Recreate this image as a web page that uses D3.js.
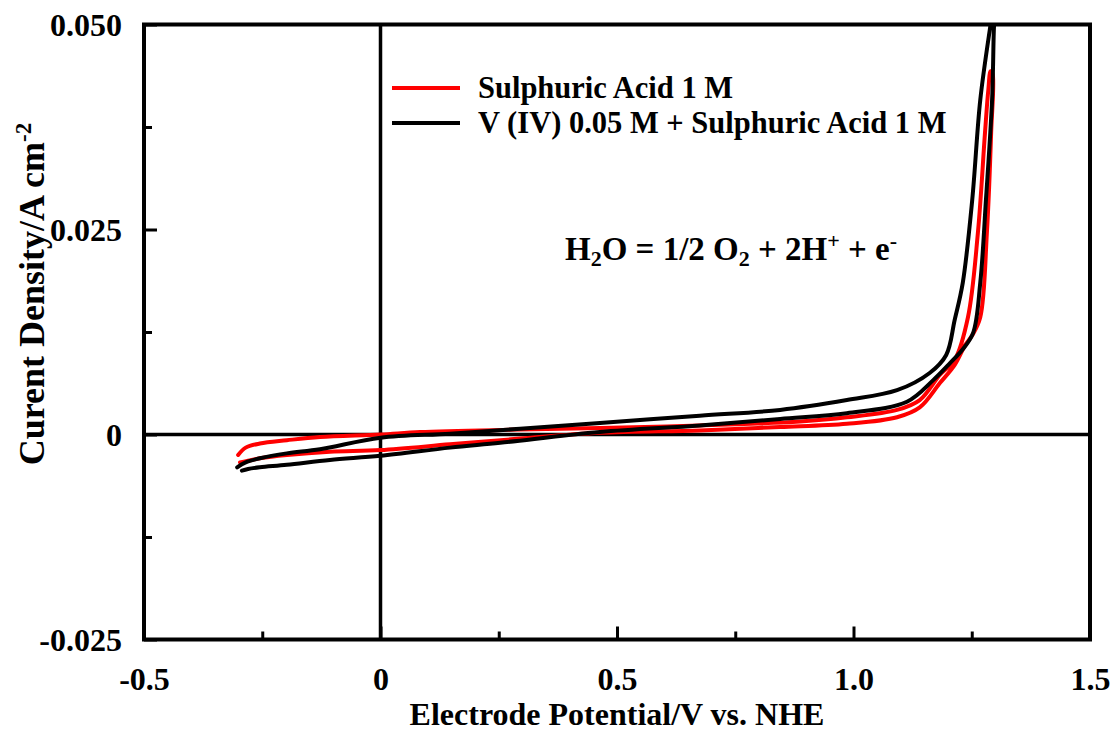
<!DOCTYPE html>
<html>
<head>
<meta charset="utf-8">
<script src="https://cdn.jsdelivr.net/npm/d3@7"></script>
<style>
  body { margin: 0; background: #fff; }
  text { font-family: "Liberation Serif", "Times New Roman", serif; font-weight: bold; fill: #000; }
</style>
</head>
<body>
<svg id="chart" width="1113" height="733"></svg>
<script>
// Axis ticks
const xTicks = [-0.5, 0, 0.5, 1.0, 1.5];
const xTickLabels = ["-0.5", "0", "0.5", "1.0", "1.5"];
const xMinorTicks = [-0.25, 0.25, 0.75, 1.25];
const yTicks = [-0.025, 0, 0.025, 0.05];
const yTickLabels = ["-0.025", "0", "0.025", "0.050"];
const yMinorTicks = [-0.0125, 0.0125, 0.0375];

// Series names
const seriesNames = ["Sulphuric Acid 1 M", "V (IV) 0.05 M + Sulphuric Acid 1 M"];

// Sulphuric acid 1 M: anodic sweep then return sweep (V vs. NHE, A cm^-2)
const acidPotential = [
  -0.297, -0.280, -0.255, -0.198, -0.107, 0.000, 0.147, 0.295, 0.464, 0.675, 0.845, 0.986,
  1.092, 1.140, 1.183, 1.214, 1.236, 1.251, 1.268, 1.282, 1.291, 1.294,
  1.290, 1.285, 1.278, 1.263, 1.242, 1.214, 1.183, 1.140, 1.092, 0.986, 0.887, 0.675,
  0.464, 0.295, 0.084, 0.000, -0.128, -0.198, -0.255, -0.285, -0.301
];
const acidCurrent = [
  -0.0034, -0.0032, -0.0029, -0.0025, -0.0021, -0.0019, -0.0012, -0.0005, 0.0002, 0.0005, 0.0009, 0.0013,
  0.0021, 0.0033, 0.0063, 0.0085, 0.0109, 0.0121, 0.0143, 0.0246, 0.0368, 0.0440,
  0.0443, 0.0420, 0.0368, 0.0246, 0.0143, 0.0091, 0.0073, 0.0042, 0.0030, 0.0021, 0.0016, 0.0011,
  0.0008, 0.0006, 0.0003, 0.0000, -0.0003, -0.0007, -0.0011, -0.0016, -0.0025
];

// V(IV) 0.05 M + sulphuric acid 1 M
const vanadiumPotential = [
  -0.293, -0.280, -0.255, -0.198, -0.107, 0.000, 0.147, 0.253, 0.464, 0.675, 0.845, 0.986,
  1.113, 1.168, 1.204, 1.231, 1.253, 1.268, 1.280, 1.293, 1.297, 1.299,
  1.293, 1.289, 1.268, 1.251, 1.231, 1.214, 1.196, 1.161, 1.092, 0.986, 0.845, 0.675,
  0.464, 0.295, 0.147, 0.000, -0.128, -0.198, -0.255, -0.285, -0.303
];
const vanadiumCurrent = [
  -0.0044, -0.0042, -0.0040, -0.0037, -0.0031, -0.0026, -0.0016, -0.0010, 0.0003, 0.0011, 0.0019, 0.0026,
  0.0040, 0.0066, 0.0087, 0.0104, 0.0124, 0.0185, 0.0286, 0.0408, 0.0497, 0.0512,
  0.0512, 0.0497, 0.0408, 0.0286, 0.0185, 0.0140, 0.0097, 0.0075, 0.0054, 0.0042, 0.0030, 0.0023,
  0.0014, 0.0007, 0.0001, -0.0004, -0.0018, -0.0023, -0.0029, -0.0034, -0.0040
];

const seriesColors = ["#ff0000", "#000000"];

const svg = d3.select("#chart");
const plot = { left: 144, right: 1090, top: 24.5, bottom: 639.5 };

const x = d3.scaleLinear().domain([-0.5, 1.5]).range([plot.left, plot.right]);
const y = d3.scaleLinear().domain([-0.025, 0.05]).range([plot.bottom, plot.top]);

svg.append("defs").append("clipPath").attr("id", "plot-clip")
  .append("rect")
  .attr("x", plot.left).attr("y", plot.top)
  .attr("width", plot.right - plot.left).attr("height", plot.bottom - plot.top);

// Zero lines
svg.append("line")
  .attr("x1", x(-0.5)).attr("x2", x(1.5)).attr("y1", y(0)).attr("y2", y(0))
  .attr("stroke", "#000").attr("stroke-width", 3.5);
svg.append("line")
  .attr("x1", x(0)).attr("x2", x(0)).attr("y1", y(-0.025)).attr("y2", y(0.05))
  .attr("stroke", "#000").attr("stroke-width", 3.5);

// Curves
const series = [
  d3.zip(acidPotential, acidCurrent),
  d3.zip(vanadiumPotential, vanadiumCurrent)
];
const line = d3.line()
  .x(d => x(d[0])).y(d => y(d[1]))
  .curve(d3.curveCatmullRom.alpha(0.5));

svg.append("g").attr("clip-path", "url(#plot-clip)")
  .selectAll("path").data(series).join("path")
  .attr("d", line)
  .attr("fill", "none")
  .attr("stroke", (d, i) => seriesColors[i])
  .attr("stroke-width", 4)
  .attr("stroke-linejoin", "round")
  .attr("stroke-linecap", "round");

// Axes: inward major and minor ticks
function styleAxis(g) {
  g.select(".domain").remove();
  g.selectAll(".tick line").attr("stroke", "#000").attr("stroke-width", 3);
  g.selectAll(".tick text").style("font-size", "32px");
}

svg.append("g")
  .attr("transform", `translate(0,${plot.bottom})`)
  .call(d3.axisBottom(x).tickValues(xTicks).tickSizeInner(-13).tickSizeOuter(0)
    .tickPadding(0).tickFormat((d, i) => xTickLabels[i]))
  .call(styleAxis)
  .call(g => g.selectAll(".tick text").attr("y", 50).attr("dy", null));

svg.append("g")
  .attr("transform", `translate(0,${plot.bottom})`)
  .call(d3.axisBottom(x).tickValues(xMinorTicks).tickSizeInner(-8).tickSizeOuter(0).tickFormat(""))
  .call(styleAxis);

svg.append("g")
  .attr("transform", `translate(${plot.left},0)`)
  .call(d3.axisLeft(y).tickValues(yTicks).tickSizeInner(-13).tickSizeOuter(0)
    .tickPadding(0).tickFormat((d, i) => yTickLabels[i]))
  .call(styleAxis)
  .call(g => g.selectAll(".tick text").attr("x", -22).attr("dy", "0.35em"));

svg.append("g")
  .attr("transform", `translate(${plot.left},0)`)
  .call(d3.axisLeft(y).tickValues(yMinorTicks).tickSizeInner(-8).tickSizeOuter(0).tickFormat(""))
  .call(styleAxis);

// Frame
svg.append("rect")
  .attr("x", plot.left).attr("y", plot.top)
  .attr("width", plot.right - plot.left).attr("height", plot.bottom - plot.top)
  .attr("fill", "none").attr("stroke", "#000").attr("stroke-width", 4);

// Axis titles
svg.append("text")
  .attr("x", (plot.left + plot.right) / 2).attr("y", 725)
  .attr("text-anchor", "middle").style("font-size", "32px")
  .text("Electrode Potential/V vs. NHE");

const yTitle = svg.append("text")
  .attr("transform", "translate(44,294) rotate(-90)")
  .attr("text-anchor", "middle").style("font-size", "36px");
yTitle.append("tspan").text("Curent Density/A cm");
yTitle.append("tspan").attr("dy", -13).style("font-size", "23px").text("-2");

// Legend
const legend = svg.append("g").attr("transform", "translate(392,88)");
seriesNames.forEach((name, i) => {
  const row = legend.append("g").attr("transform", `translate(0,${i * 35})`);
  row.append("line").attr("x1", 0).attr("x2", 68).attr("y1", 0).attr("y2", 0)
    .attr("stroke", seriesColors[i]).attr("stroke-width", 4);
  row.append("text").attr("x", 86).attr("y", 10).style("font-size", "30.5px").text(name);
});

// Reaction equation
const eq = svg.append("text").attr("x", 565).attr("y", 260).style("font-size", "33px");
eq.append("tspan").text("H");
eq.append("tspan").attr("dy", 6).style("font-size", "22px").text("2");
eq.append("tspan").attr("dy", -6).text("O = 1/2 O");
eq.append("tspan").attr("dy", 6).style("font-size", "22px").text("2");
eq.append("tspan").attr("dy", -6).text(" + 2H");
eq.append("tspan").attr("dy", -12).style("font-size", "22px").text("+");
eq.append("tspan").attr("dy", 12).text(" + e");
eq.append("tspan").attr("dy", -12).style("font-size", "22px").text("-");
</script>
</body>
</html>
